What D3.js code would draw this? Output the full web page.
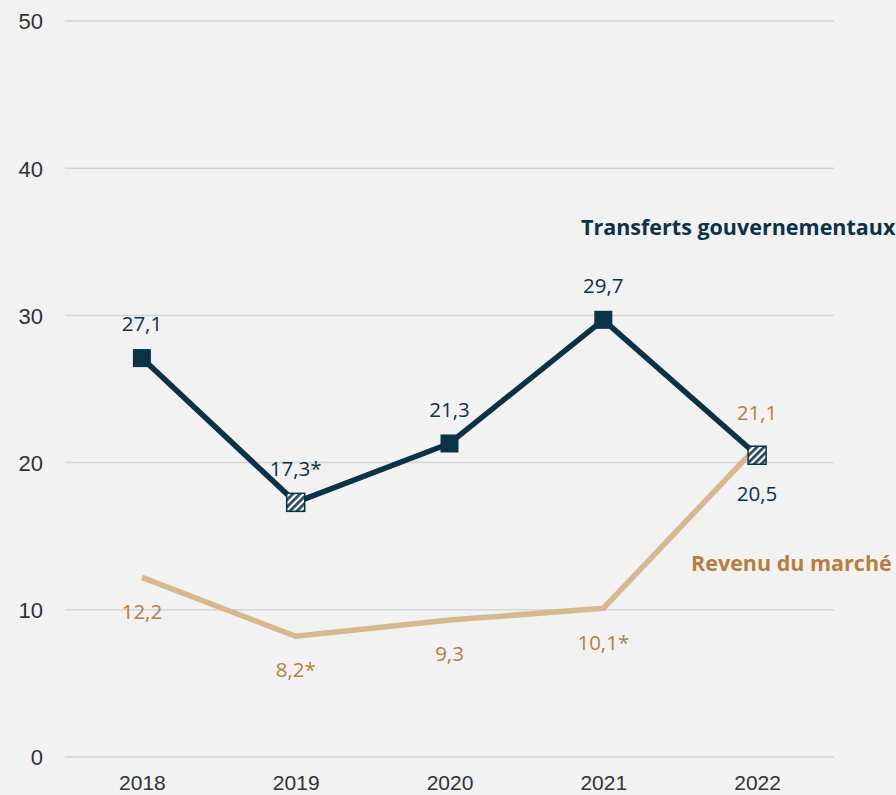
<!DOCTYPE html>
<html><head><meta charset="utf-8">
<script src="https://cdn.jsdelivr.net/npm/d3@7"></script>
<style>
html,body{margin:0;padding:0;background:#f2f2f2;}
svg{display:block;}
</style></head>
<body>
<svg id="c" width="896" height="795"></svg>
<script>
const years = ["2018","2019","2020","2021","2022"];
const transferts = [27.1, 17.3, 21.3, 29.7, 20.5];
const transfertsLabels = ["27,1","17,3*","21,3","29,7","20,5"];
const transfertsHatched = [false, true, false, false, true];
const revenu = [12.2, 8.2, 9.3, 10.1, 21.1];
const revenuLabels = ["12,2","8,2*","9,3","10,1*","21,1"];
const yTicks = [0,10,20,30,40,50];

const navy = "#0b3347", tanLine = "#d8b88e", tanText = "#b67f40";
const svg = d3.select("#c");
svg.append("rect").attr("width",896).attr("height",795).attr("fill","#f2f2f2");

const defs = svg.append("defs");
const pat = defs.append("pattern").attr("id","hatch").attr("patternUnits","userSpaceOnUse")
  .attr("width",5).attr("height",5).attr("patternTransform","rotate(45)");
pat.append("rect").attr("width",5).attr("height",5).attr("fill","#ffffff");
pat.append("rect").attr("width",2.8).attr("height",5).attr("fill","#2e475a");

const x = d3.scalePoint().domain(years).range([65,834]).padding(0.5);
const y = d3.scaleLinear().domain([0,50]).range([757,21]);

// grid
svg.append("g").selectAll("line").data(yTicks).join("line")
  .attr("x1",65).attr("x2",834).attr("y1",d=>y(d)).attr("y2",d=>y(d))
  .attr("stroke","#d6d6d6").attr("stroke-width",1.5);

// y axis
const ya = svg.append("g").attr("transform","translate(43,0)")
  .call(d3.axisLeft(y).tickValues(yTicks).tickSize(0).tickPadding(0));
ya.select(".domain").remove();
ya.selectAll("text").attr("font-family","Liberation Sans, Arial, sans-serif")
  .attr("font-size",22).attr("fill","#333").attr("dy","0.36em");

// x axis
const xa = svg.append("g").attr("transform","translate(0,774)")
  .call(d3.axisBottom(x).tickSize(0).tickPadding(0));
xa.select(".domain").remove();
xa.selectAll("text").attr("font-family","Liberation Sans, Arial, sans-serif")
  .attr("font-size",21).attr("fill","#333").attr("dy","0.76em");

const line = d3.line().x((d,i)=>x(years[i])).y(d=>y(d));

svg.append("path").datum(revenu).attr("d",line).attr("fill","none")
  .attr("stroke",tanLine).attr("stroke-width",5.5).attr("stroke-linejoin","round");
svg.append("path").datum(transferts).attr("d",line).attr("fill","none")
  .attr("stroke",navy).attr("stroke-width",5.5).attr("stroke-linejoin","round");

// markers
const ms = 18;
svg.append("g").selectAll("rect").data(transferts).join("rect")
  .attr("x",(d,i)=>x(years[i])-ms/2).attr("y",d=>y(d)-ms/2)
  .attr("width",ms).attr("height",ms)
  .attr("fill",(d,i)=>transfertsHatched[i]?"url(#hatch)":navy)
  .attr("stroke",navy).attr("stroke-width",(d,i)=>transfertsHatched[i]?1.5:0);

const lf = "'Open Sans', 'Noto Sans', sans-serif";
// navy labels: above, except last below
svg.append("g").selectAll("text").data(transferts).join("text")
  .attr("x",(d,i)=>x(years[i])).attr("y",(d,i)=>i===4? y(d)+39 : y(d)-34)
  .attr("dy","0.35em").attr("text-anchor","middle")
  .attr("font-family",lf).attr("font-size",20.5).attr("fill",navy)
  .text((d,i)=>transfertsLabels[i]);
// tan labels: below, except last above
svg.append("g").selectAll("text").data(revenu).join("text")
  .attr("x",(d,i)=>x(years[i])).attr("y",(d,i)=>i===4? y(d)-34 : y(d)+34)
  .attr("dy","0.35em").attr("text-anchor","middle")
  .attr("font-family",lf).attr("font-size",20.5).attr("fill",tanText)
  .text((d,i)=>revenuLabels[i]);

// series names
svg.append("text").attr("x",581).attr("y",227).attr("dy","0.35em")
  .attr("font-family",lf).attr("font-weight","bold").attr("font-size",21.5)
  .attr("fill",navy).attr("textLength",null).text("Transferts gouvernementaux");
svg.append("text").attr("x",691).attr("y",563).attr("dy","0.35em")
  .attr("font-family",lf).attr("font-weight","bold").attr("font-size",21.5)
  .attr("fill",tanText).text("Revenu du marché");
</script>
</body></html>
